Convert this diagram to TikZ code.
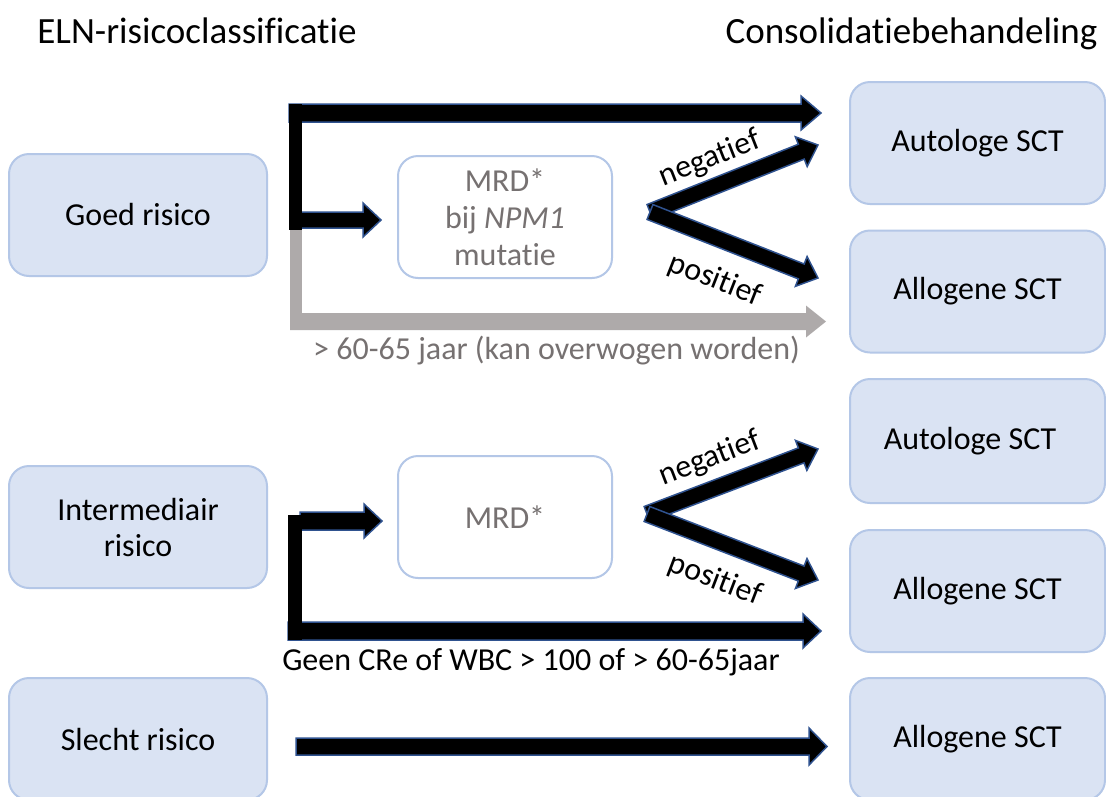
\documentclass[tikz,border=0pt]{standalone}
\usepackage{fontspec}
\setmainfont{Carlito}[Ligatures={NoCommon,NoRare,NoContextual}, Contextuals={NoAlternate}]
\usetikzlibrary{calc}
\definecolor{boxfill}{HTML}{DAE3F3}
\definecolor{boxline}{HTML}{B4C7E7}
\definecolor{arrowblue}{HTML}{2F528F}
\definecolor{grayarrow}{HTML}{AEAAAA}
\definecolor{graytext}{HTML}{767171}

% #1 style, #2 from, #3 to, #4 shaft half width, #5 head half width, #6 head length
\newcommand\blockarrow[6]{%
  \coordinate (bacbase) at ($(#3)!#6!(#2)$);
  \path[#1] ($(#2)!#4!90:(#3)$) -- ($(bacbase)!#4!90:(#3)$) -- ($(bacbase)!#5!90:(#3)$)
     -- (#3) -- ($(bacbase)!#5!-90:(#3)$) -- ($(bacbase)!#4!-90:(#3)$)
     -- ($(#2)!#4!-90:(#3)$) -- cycle;
}

\tikzset{
  riskbox/.style={draw=boxline, line width=2pt, fill=boxfill, rounded corners=20pt,
    minimum width=258pt, minimum height=122pt, inner sep=0pt, align=center,
    font=\fontsize{32}{36}\selectfont},
  treatbox/.style={riskbox, minimum width=255pt},
  mrdbox/.style={draw=boxline, line width=2pt, fill=white, rounded corners=20pt,
    minimum width=214pt, minimum height=122pt, inner sep=0pt, align=center,
    text=graytext, font=\fontsize{32}{37}\selectfont},
  headtext/.style={font=\fontsize{37}{44}\selectfont, inner sep=0pt},
  lbl/.style={font=\fontsize{32}{38}\selectfont, inner sep=0pt},
  blackarrow/.style={fill=black, draw=arrowblue, line width=1.5pt, line join=miter},
  grayarr/.style={fill=grayarrow},
}

\begin{document}
\begin{tikzpicture}[x=1pt, y=-1pt]
\path[use as bounding box] (0,0) rectangle (1106,796);
\clip (0,0) rectangle (1106,796);
\fill[white] (0,0) rectangle (1106,796);

% titles
\node[headtext, anchor=base] (eln) at (197,43) {ELN-risicoclassificat\kern0pt ie};
\node[headtext, anchor=base] (cons) at (911.5,43) {Consolidat\kern0pt iebehandeling};

% left boxes
\node[riskbox] (goed) at (138,215) {Goed risico};
\node[riskbox] (inter) at (138,527) {Intermediair\\risico};
\node[riskbox] (slecht) at (138,739) {Slecht risico};

% right boxes
\node[treatbox] (auto1) at (977.5,143) {Autologe SCT};
\node[treatbox] (allo1) at (977.5,291.5) {Allogene SCT};
\node[treatbox, minimum height=124pt] (auto2) at (977.5,441) {Autologe SCT\hspace{15pt}};
\node[treatbox] (allo2) at (977.5,591) {Allogene SCT};
\node[treatbox] (allo3) at (977.5,739) {Allogene SCT};

% MRD boxes
\node[mrdbox] (mrd1) at (505,217) {MRD*\\bij \textit{NPM1}\\mutat\kern0pt ie};
\node[mrdbox] (mrd2) at (505,517) {MRD*};

% ---- group 1 (goed risico)
\coordinate (g1gtop) at (290,205);
\coordinate (g1gbot) at (302,330);
\coordinate (g1gs) at (290,321.5);
\coordinate (g1ge) at (826,321.5);
\fill[grayarrow] (g1gtop) rectangle (g1gbot);
\blockarrow{grayarr}{g1gs}{g1ge}{8.5pt}{16pt}{20pt}

\coordinate (g1ts) at (289,113);
\coordinate (g1te) at (821,113);
\blockarrow{blackarrow}{g1ts}{g1te}{9pt}{17pt}{20pt}
\coordinate (g1ms) at (300,220);
\coordinate (g1me) at (381,220);
\blockarrow{blackarrow}{g1ms}{g1me}{8pt}{17pt}{18pt}
\coordinate (g1bt) at (289,104);
\coordinate (g1bb) at (302,230);
\fill[black] (g1bt) rectangle (g1bb);

\coordinate (g1o) at (650,212);
\coordinate (g1n) at (818,145);
\coordinate (g1p) at (818,278);
\blockarrow{blackarrow}{g1o}{g1n}{8pt}{16pt}{18pt}
\blockarrow{blackarrow}{g1o}{g1p}{8pt}{16pt}{18pt}
\node[lbl, rotate=21.5] (neg1) at (710,159) {negat\kern0pt ief};
\node[lbl, rotate=-21.5] (pos1) at (715,280) {posit\kern0pt ief};
\node[lbl, text=graytext] (age1) at (556.5,351) {> 60-65 jaar (kan overwogen worden)};

% ---- group 2 (intermediair risico)
\coordinate (g2ms) at (300,521);
\coordinate (g2me) at (382,521);
\blockarrow{blackarrow}{g2ms}{g2me}{9pt}{17pt}{18pt}
\coordinate (g2bs) at (288,631);
\coordinate (g2be) at (821,631);
\blockarrow{blackarrow}{g2bs}{g2be}{9pt}{17pt}{18pt}
\coordinate (g2bt) at (288,515);
\coordinate (g2bb) at (302,640);
\fill[black] (g2bt) rectangle (g2bb);

\coordinate (g2o) at (647,514);
\coordinate (g2n) at (818,449);
\coordinate (g2p) at (818,580);
\blockarrow{blackarrow}{g2o}{g2n}{8pt}{16pt}{18pt}
\blockarrow{blackarrow}{g2o}{g2p}{8pt}{16pt}{18pt}
\node[lbl, rotate=21] (neg2) at (710,459) {negat\kern0pt ief};
\node[lbl, rotate=-21] (pos2) at (715,580) {posit\kern0pt ief};
\node[lbl] (geen) at (531,662) {Geen CRe of WBC > 100 of > 60-65jaar};

% ---- group 3 (slecht risico)
\coordinate (g3s) at (296,746.5);
\coordinate (g3e) at (827,746.5);
\blockarrow{blackarrow}{g3s}{g3e}{8.5pt}{18.5pt}{18pt}
\end{tikzpicture}
\end{document}
